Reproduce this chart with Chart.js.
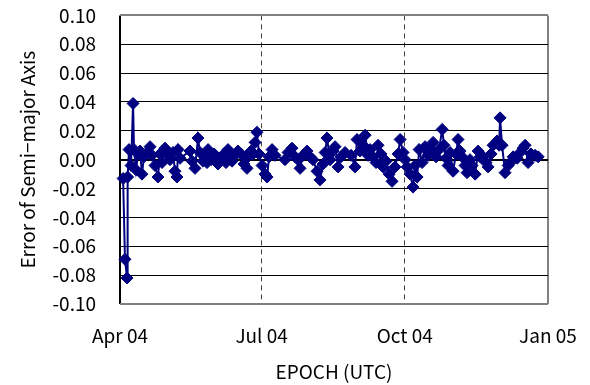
<!DOCTYPE html>
<html><head><meta charset="utf-8">
<script src="https://cdn.jsdelivr.net/npm/chart.js@4"></script>
<style>html,body{margin:0;padding:0;background:#fff;}</style>
</head><body>
<canvas id="c" width="590" height="385" style="width:590px;height:385px"></canvas>
<script>
// Days since 2004-04-01 (UTC)
const epochDays = [2.0,3.2,4.5,4.9,5.8,7.1,8.4,9.0,10.3,11.6,12.9,14.1,15.4,17.4,19.3,20.6,22.5,24.4,25.7,27.0,28.9,30.9,32.1,34.1,35.3,36.6,37.3,38.6,
45.0,46.3,48.2,50.1,51.4,53.3,54.6,55.9,56.6,58.5,60.4,62.3,63.0,64.9,66.8,68.1,69.4,70.7,72.0,73.9,75.8,77.8,79.7,81.6,82.3,84.2,85.5,86.8,88.0,89.3,91.3,93.2,94.5,95.8,97.7,99.6,
106.0,108.0,110.5,112.5,114.4,115.7,117.6,120.2,122.1,124.0,126.6,128.5,130.5,131.8,133.0,135.0,136.9,138.2,140.1,142.0,144.6,
148.5,151.0,152.3,154.2,156.2,157.5,159.4,160.7,162.6,164.5,165.8,167.7,169.0,171.0,172.9,174.8,176.7,178.7,180.0,181.9,
183.2,184.5,186.4,188.3,189.6,190.9,192.2,194.1,196.0,198.0,199.2,201.2,203.1,205.0,207.0,208.2,209.5,210.8,212.1,214.0,
215.9,217.2,218.5,219.8,221.7,223.0,224.9,226.2,228.2,230.1,231.4,233.3,235.2,236.5,238.4,239.7,242.3,243.6,244.2,245.5,
247.4,249.4,250.7,252.6,255.2,257.1,259.0,260.3,262.2,264.1,266.7,268.7];
const semiMajorErrors = [-0.013,-0.069,-0.082,-0.012,0.007,-0.004,0.039,0.007,-0.007,0.004,0.006,-0.010,0.002,0.005,0.009,0.003,-0.004,-0.012,0.004,-0.002,0.008,0.003,0.000,0.005,-0.008,-0.012,0.007,0.001,
0.006,-0.001,-0.006,0.015,0.005,-0.001,0.003,-0.002,0.007,0.000,0.004,0.002,-0.003,0.001,0.004,-0.002,0.007,0.003,-0.001,0.003,0.006,0.004,-0.003,-0.006,0.002,0.006,0.004,0.012,0.019,0.004,-0.004,-0.010,-0.012,0.002,0.007,0.003,
0.000,0.005,0.008,0.002,0.000,-0.006,0.003,0.006,0.002,0.000,-0.008,-0.014,-0.003,0.005,0.015,0.000,0.006,0.009,-0.005,0.002,0.005,
0.003,-0.005,0.014,0.006,0.010,0.017,0.003,0.007,0.002,-0.002,0.010,0.004,-0.005,-0.001,-0.010,-0.015,-0.005,0.004,0.014,0.005,
0.000,-0.005,-0.010,-0.019,-0.004,-0.012,0.007,-0.002,0.009,0.003,0.006,0.012,0.002,0.007,0.021,0.010,0.001,-0.004,0.005,-0.008,
0.004,0.014,0.006,0.002,-0.004,-0.009,0.000,-0.004,-0.010,0.006,0.002,0.002,-0.002,-0.005,0.004,0.010,0.013,0.010,0.029,0.010,
-0.009,-0.004,-0.002,0.002,0.001,0.005,0.008,0.010,-0.002,0.004,0.003,0.002];
const xTickDays = [0, 91, 183, 275];
const xTickLabels = ['Apr 04', 'Jul 04', 'Oct 04', 'Jan 05'];
const yTickValues = [-0.10,-0.08,-0.06,-0.04,-0.02,0.00,0.02,0.04,0.06,0.08,0.10];

const FONT = "'Noto Sans CJK JP', 'Noto Sans', sans-serif";
const points = epochDays.map((d, i) => ({x: d, y: semiMajorErrors[i]}));
const isEdgeY = v => Math.abs(Math.abs(v) - 0.1) < 1e-9;

new Chart(document.getElementById('c'), {
  type: 'line',
  data: {datasets: [{
    data: points,
    borderColor: '#000080', backgroundColor: '#000080',
    borderWidth: 2, tension: 0,
    pointStyle: 'rectRot', pointRadius: 6, pointHoverRadius: 6, pointBorderWidth: 1,
    clip: false
  }]},
  options: {
    responsive: false, animation: false, devicePixelRatio: 1,
    layout: {padding: {top: 15, right: 42, left: 0, bottom: 0}},
    plugins: {legend: {display: false}, tooltip: {enabled: false}},
    scales: {
      x: {
        type: 'linear', min: xTickDays[0], max: xTickDays[xTickDays.length - 1],
        afterBuildTicks: s => { s.ticks = xTickDays.map(v => ({value: v})); },
        afterFit: s => { s.height = 81; },
        ticks: {
          autoSkip: false, maxRotation: 0, color: '#000', padding: 4,
          font: {family: FONT, size: 19},
          callback: v => { const i = xTickDays.indexOf(v); return i >= 0 ? xTickLabels[i] : ''; }
        },
        grid: {
          drawTicks: true, tickLength: 16, tickColor: 'rgba(0,0,0,0)',
          color: c => c.tick.value === xTickDays[0] ? '#000' : (c.tick.value === xTickDays[3] ? '#808080' : '#404040'),
          lineWidth: c => (c.tick.value === xTickDays[0] || c.tick.value === xTickDays[3]) ? 2 : 1
        },
        border: {display: false, dash: c => (c.tick && (c.tick.value === xTickDays[1] || c.tick.value === xTickDays[2])) ? [5, 4] : []},
        title: {display: true, text: 'EPOCH (UTC)', color: '#000', font: {family: FONT, size: 19}, padding: {top: 0, bottom: 2}}
      },
      y: {
        min: yTickValues[0], max: yTickValues[yTickValues.length - 1],
        afterBuildTicks: s => { s.ticks = yTickValues.map(v => ({value: v})); },
        afterFit: s => { s.width = 120; },
        ticks: {
          color: '#000', padding: 4, font: {family: FONT, size: 19},
          callback: v => (Math.abs(v) < 1e-9 ? 0 : v).toFixed(2)
        },
        grid: {
          drawTicks: true, tickLength: 20, tickColor: 'rgba(0,0,0,0)',
          color: c => isEdgeY(c.tick.value) ? '#808080' : '#000',
          lineWidth: c => (isEdgeY(c.tick.value) || Math.abs(c.tick.value) < 1e-9) ? 2 : 1
        },
        border: {display: false},
        title: {display: true, text: 'Error of Semi−major Axis', color: '#000', font: {family: FONT, size: 19}, padding: {top: 16, bottom: 0}}
      }
    }
  }
});
</script>
</body></html>
